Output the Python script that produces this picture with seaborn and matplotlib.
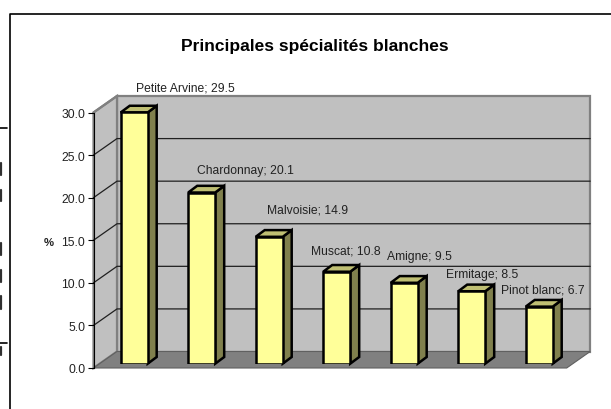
import numpy as np
import pandas as pd
import seaborn as sns
import matplotlib.pyplot as plt
from matplotlib.patches import Polygon
from matplotlib.transforms import IdentityTransform

categories = ['Petite Arvine', 'Chardonnay', 'Malvoisie', 'Muscat', 'Amigne', 'Ermitage', 'Pinot blanc']
values = [29.5, 20.1, 14.9, 10.8, 9.5, 8.5, 6.7]
y_ticks = [0, 5, 10, 15, 20, 25, 30]
title = 'Principales spécialités blanches'
y_label = '%'

W, H = 611, 410
DEPTH_X, DEPTH_Y = 23.5, 16.5
FRONT_L, FRONT_R, FRONT_B, FRONT_T = 93.5, 566.7, 369, 113.5

sns.set_theme(style='white')
plt.rcParams['font.family'] = ['Liberation Sans', 'DejaVu Sans']

fig = plt.figure(figsize=(W / 100, H / 100), dpi=100)


def box(left, right, bottom, top):
    return [left / W, 1 - bottom / H, (right - left) / W, (bottom - top) / H]


# background in pixel coordinates: frame, walls
bg = fig.add_axes([0, 0, 1, 1], zorder=0)
bg.set_xlim(0, W)
bg.set_ylim(H, 0)
bg.axis('off')
bg.plot([9.5, 9.5, W], [H, 14.5, 14.5], color='black', lw=1.2)
bg.plot([0, 7], [129, 129], color='black', lw=1.2)
bg.plot([0, 7], [344, 344], color='black', lw=1.2)
# slivers of whatever was cropped away at the page edge
for y0, y1 in [(164, 176), (191, 202), (244, 256), (271, 283), (297, 310), (348, 356)]:
    bg.plot([0.5, 0.5], [y0, y1], color='#303030', lw=1.6)

back_l, back_r = FRONT_L + DEPTH_X, FRONT_R + DEPTH_X
back_b, back_t = FRONT_B - DEPTH_Y, FRONT_T - DEPTH_Y
bg.add_patch(Polygon([(back_l, back_t), (back_r, back_t), (back_r, back_b), (back_l, back_b)],
                     facecolor='#c0c0c0', edgecolor='#808080', lw=1.6))
bg.add_patch(Polygon([(FRONT_L, FRONT_T), (back_l, back_t), (back_l, back_b), (FRONT_L, FRONT_B)],
                     facecolor='#c0c0c0', edgecolor='#808080', lw=1.6))
bg.add_patch(Polygon([(FRONT_L, FRONT_B), (back_l, back_b), (back_r, back_b), (FRONT_R, FRONT_B)],
                     facecolor='#808080', edgecolor='#606060', lw=0.8))

# front axes carries the y scale
ax = fig.add_axes(box(FRONT_L, FRONT_R, FRONT_B, FRONT_T), zorder=1)
ax.patch.set_alpha(0)
ax.set_ylim(0, 30)
ax.set_xticks([])
ax.set_yticks(y_ticks, [f'{t:.1f}' for t in y_ticks])
ax.tick_params(axis='y', left=True, length=4, width=0.8, color='black', labelsize=8.7, pad=2, labelcolor='#222222')
for side in ['top', 'right', 'bottom']:
    ax.spines[side].set_visible(False)
ax.spines['left'].set_color('black')
ax.spines['left'].set_linewidth(0.8)
fig.text(49 / W, 1 - 243 / H, y_label, fontsize=8.2, fontweight='bold', ha='center', va='center', color='#222222')

# grid: diagonal on the side wall, straight on the back wall
for t in y_ticks[1:-1]:
    py = FRONT_B - (FRONT_B - FRONT_T) * t / 30
    bg.plot([FRONT_L, back_l, back_r], [py, py - DEPTH_Y, py - DEPTH_Y], color='#202020', lw=0.9)
bg.plot([FRONT_L, back_l], [FRONT_T, back_t], color='#808080', lw=1.6)

# bars sit a bit inside the floor
bar_ax = fig.add_axes(box(100.45, 572.95, 364.7, 364.7 - (FRONT_B - FRONT_T)), zorder=2)
bar_ax.patch.set_alpha(0)
df = pd.DataFrame({'cat': categories, 'val': values})
sns.barplot(data=df, x='cat', y='val', ax=bar_ax, width=0.4, color='#ffff99', saturation=1,
            edgecolor='black', linewidth=1.8, zorder=3)
bar_ax.set_xlim(-0.5, 6.5)
bar_ax.set_ylim(0, 30)
bar_ax.axis('off')

# side and top faces from the bars
dx, dy = 9, 6.7
for p in bar_ax.patches:
    x0, x1 = p.get_x(), p.get_x() + p.get_width()
    h = p.get_height()
    (lx, by), (rx, ty) = bar_ax.transData.transform([(x0, 0), (x1, h)])
    bar_ax.add_patch(Polygon([(rx, by), (rx + dx, by + dy), (rx + dx, ty + dy), (rx, ty)],
                             transform=IdentityTransform(), facecolor='#80804d', edgecolor='black', lw=1.8, zorder=2, clip_on=False))
    bar_ax.add_patch(Polygon([(lx, ty), (lx + dx, ty + dy), (rx + dx, ty + dy), (rx, ty)],
                             transform=IdentityTransform(), facecolor='#bfbf73', edgecolor='black', lw=1.8, zorder=2, clip_on=False))

# data labels
label_x = [185, 245, 308, 346, 419, 482, 543]
label_y = [88.5, 171, 211, 252, 257, 275, 290.7]
lab = fig.add_axes([0, 0, 1, 1], zorder=3)
lab.set_xlim(0, W)
lab.set_ylim(H, 0)
lab.axis('off')
for c, v, lx, ly in zip(categories, values, label_x, label_y):
    lab.text(lx, ly, f'{c}; {v}', fontsize=8.7, ha='center', va='center', color='#222222')
lab.text(314.5, 46, title, fontsize=12.5, fontweight='bold', ha='center', va='center', color='black')

plt.savefig('out.png', dpi=100)
